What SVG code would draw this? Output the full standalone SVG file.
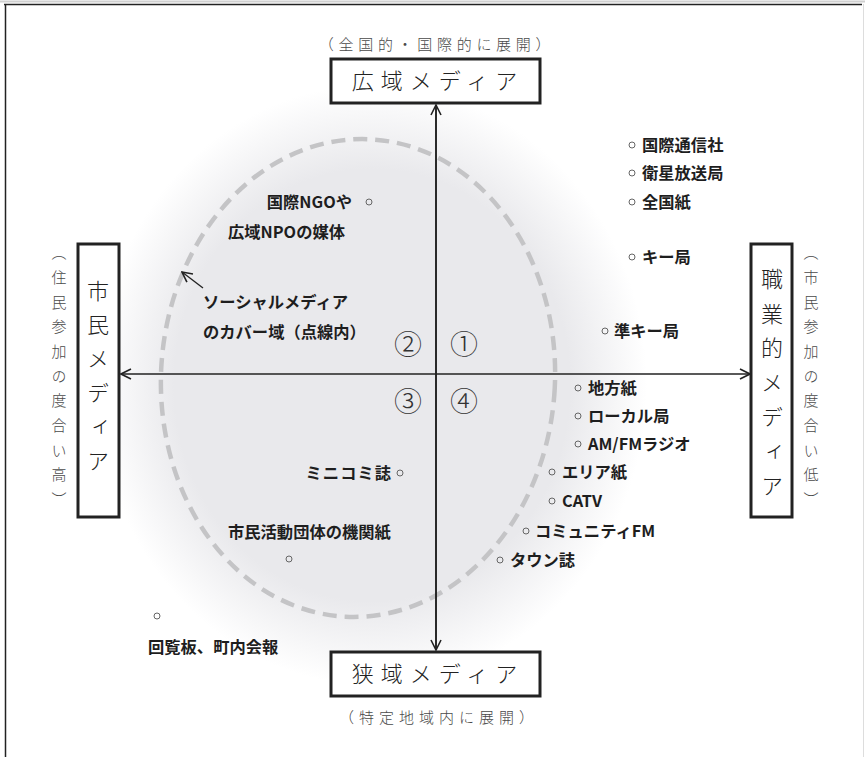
<svg xmlns="http://www.w3.org/2000/svg" width="865" height="757" viewBox="0 0 865 757">
<defs>
<style>
.lbl{font-family:"Noto Sans CJK JP","Noto Sans",sans-serif;font-weight:700;font-size:16.3px;fill:#1e1e1e}
.box{fill:#fff;stroke:#222;stroke-width:3}
.boxt{font-family:"Noto Sans CJK JP",sans-serif;font-weight:300;font-size:22px;fill:#222}
.cap{font-family:"Noto Sans CJK JP",sans-serif;font-weight:300;font-size:15px;fill:#4a4a4a}
.num{font-family:"Noto Sans CJK JP",sans-serif;font-weight:300;font-size:28px;fill:#333}
.dot{fill:none;stroke:#666;stroke-width:1}
.axis{stroke:#222;stroke-width:1.6;fill:none}
</style>
<radialGradient id="shade" cx="0.5" cy="0.5" r="0.5">
<stop offset="0" stop-color="#e9e9ec"/>
<stop offset="0.72" stop-color="#e9e9ec"/>
<stop offset="1" stop-color="#e9e9ec" stop-opacity="0"/>
</radialGradient>
<marker id="arr" viewBox="0 0 12 12" refX="11" refY="6" markerWidth="12" markerHeight="12" markerUnits="userSpaceOnUse" orient="auto">
<path d="M1,1 L11,6 L1,11" fill="none" stroke="#222" stroke-width="1.6"/>
</marker>
</defs>
<rect width="865" height="757" fill="#fff"/>
<g id="frame">
<line x1="0" y1="1.5" x2="865" y2="1.5" stroke="#d0d0d0" stroke-width="2"/>
<line x1="4" y1="4.5" x2="862" y2="4.5" stroke="#222" stroke-width="1.5"/>
<line x1="5.5" y1="4" x2="5.5" y2="757" stroke="#222" stroke-width="1.5"/>
<line x1="863.5" y1="4" x2="863.5" y2="757" stroke="#ddd" stroke-width="1"/>
</g>
<g id="coverage">
<ellipse cx="372" cy="385" rx="275" ry="300" fill="url(#shade)"/>
<ellipse cx="358" cy="378" rx="197" ry="239" transform="rotate(3 358 378)" fill="none" stroke="#c4c4c6" stroke-width="4.5" stroke-dasharray="14 8"/>
</g>
<g id="connectors">
<line class="axis" x1="436" y1="650" x2="436" y2="105" marker-end="url(#arr)"/>
<line class="axis" x1="436" y1="105" x2="436" y2="650" marker-end="url(#arr)"/>
<line class="axis" x1="436" y1="374" x2="121" y2="374" marker-end="url(#arr)"/>
<line class="axis" x1="436" y1="374" x2="750" y2="374" marker-end="url(#arr)"/>
<line x1="203" y1="288" x2="182" y2="272" stroke="#222" stroke-width="1.3" marker-end="url(#arr)"/>
</g>
<g id="node-top">
<text class="cap" x="437" y="50" text-anchor="middle" letter-spacing="4.7">（全国的・国際的に展開）</text>
<rect class="box" x="331" y="59" width="209" height="44"/>
<text class="boxt" x="438" y="89" text-anchor="middle" letter-spacing="7">広域メディア</text>
</g>
<g id="node-bottom">
<rect class="box" x="331" y="652" width="209" height="44"/>
<text class="boxt" x="438" y="682" text-anchor="middle" letter-spacing="7">狭域メディア</text>
<text class="cap" x="439" y="723" text-anchor="middle" letter-spacing="5">（特定地域内に展開）</text>
</g>
<g id="node-left">
<rect class="box" x="78" y="244" width="41" height="273"/>
<text class="boxt" x="98" y="280" style="writing-mode:vertical-rl" letter-spacing="12">市民メディア</text>
<text class="cap" x="59" y="245" style="writing-mode:vertical-rl" letter-spacing="9.7">（住民参加の度合い高）</text>
</g>
<g id="node-right">
<rect class="box" x="751" y="244" width="41" height="273"/>
<text class="boxt" x="772" y="268" style="writing-mode:vertical-rl" letter-spacing="12.5">職業的メディア</text>
<text class="cap" x="811" y="245" style="writing-mode:vertical-rl" letter-spacing="9.7">（市民参加の度合い低）</text>
</g>
<g id="quadrants">
<text class="num" x="408" y="355" text-anchor="middle">②</text>
<text class="num" x="464" y="355" text-anchor="middle">①</text>
<text class="num" x="408" y="412" text-anchor="middle">③</text>
<text class="num" x="464" y="412" text-anchor="middle">④</text>
</g>
<g id="social-label">
<text class="lbl" x="203" y="308">ソーシャルメディア</text>
<text class="lbl" x="203" y="338">のカバー域（点線内）</text>
</g>
<g id="n-ngo">
<text class="lbl" x="352" y="208" text-anchor="end">国際NGOや</text>
<circle class="dot" cx="369" cy="202" r="3"/>
<text class="lbl" x="228" y="238">広域NPOの媒体</text>
</g>
<g id="n-tsushin"><circle class="dot" cx="632" cy="145" r="3"/><text class="lbl" x="642" y="151">国際通信社</text></g>
<g id="n-eisei"><circle class="dot" cx="632" cy="173" r="3"/><text class="lbl" x="642" y="179">衛星放送局</text></g>
<g id="n-zenkoku"><circle class="dot" cx="632" cy="202" r="3"/><text class="lbl" x="642" y="208">全国紙</text></g>
<g id="n-key"><circle class="dot" cx="632" cy="257" r="3"/><text class="lbl" x="642" y="263">キー局</text></g>
<g id="n-junkey"><circle class="dot" cx="605" cy="331" r="3"/><text class="lbl" x="614" y="337">準キー局</text></g>
<g id="n-chiho"><circle class="dot" cx="578" cy="388" r="3"/><text class="lbl" x="588" y="394">地方紙</text></g>
<g id="n-local"><circle class="dot" cx="578" cy="416" r="3"/><text class="lbl" x="588" y="422">ローカル局</text></g>
<g id="n-radio"><circle class="dot" cx="578" cy="444" r="3"/><text class="lbl" x="588" y="450">AM/FMラジオ</text></g>
<g id="n-area"><circle class="dot" cx="552" cy="472" r="3"/><text class="lbl" x="562" y="478">エリア紙</text></g>
<g id="n-catv"><circle class="dot" cx="552" cy="501" r="3"/><text class="lbl" x="562" y="507">CATV</text></g>
<g id="n-cfm"><circle class="dot" cx="526" cy="531" r="3"/><text class="lbl" x="535" y="537">コミュニティFM</text></g>
<g id="n-town"><circle class="dot" cx="500" cy="560" r="3"/><text class="lbl" x="510" y="566">タウン誌</text></g>
<g id="n-minikomi"><text class="lbl" x="392" y="479" text-anchor="end" letter-spacing="1">ミニコミ誌</text><circle class="dot" cx="400" cy="473" r="3"/></g>
<g id="n-kikanshi"><text class="lbl" x="228" y="538">市民活動団体の機関紙</text><circle class="dot" cx="289" cy="559" r="3"/></g>
<g id="n-kairan"><circle class="dot" cx="157" cy="616" r="3"/><text class="lbl" x="148" y="653">回覧板、町内会報</text></g>
</svg>
